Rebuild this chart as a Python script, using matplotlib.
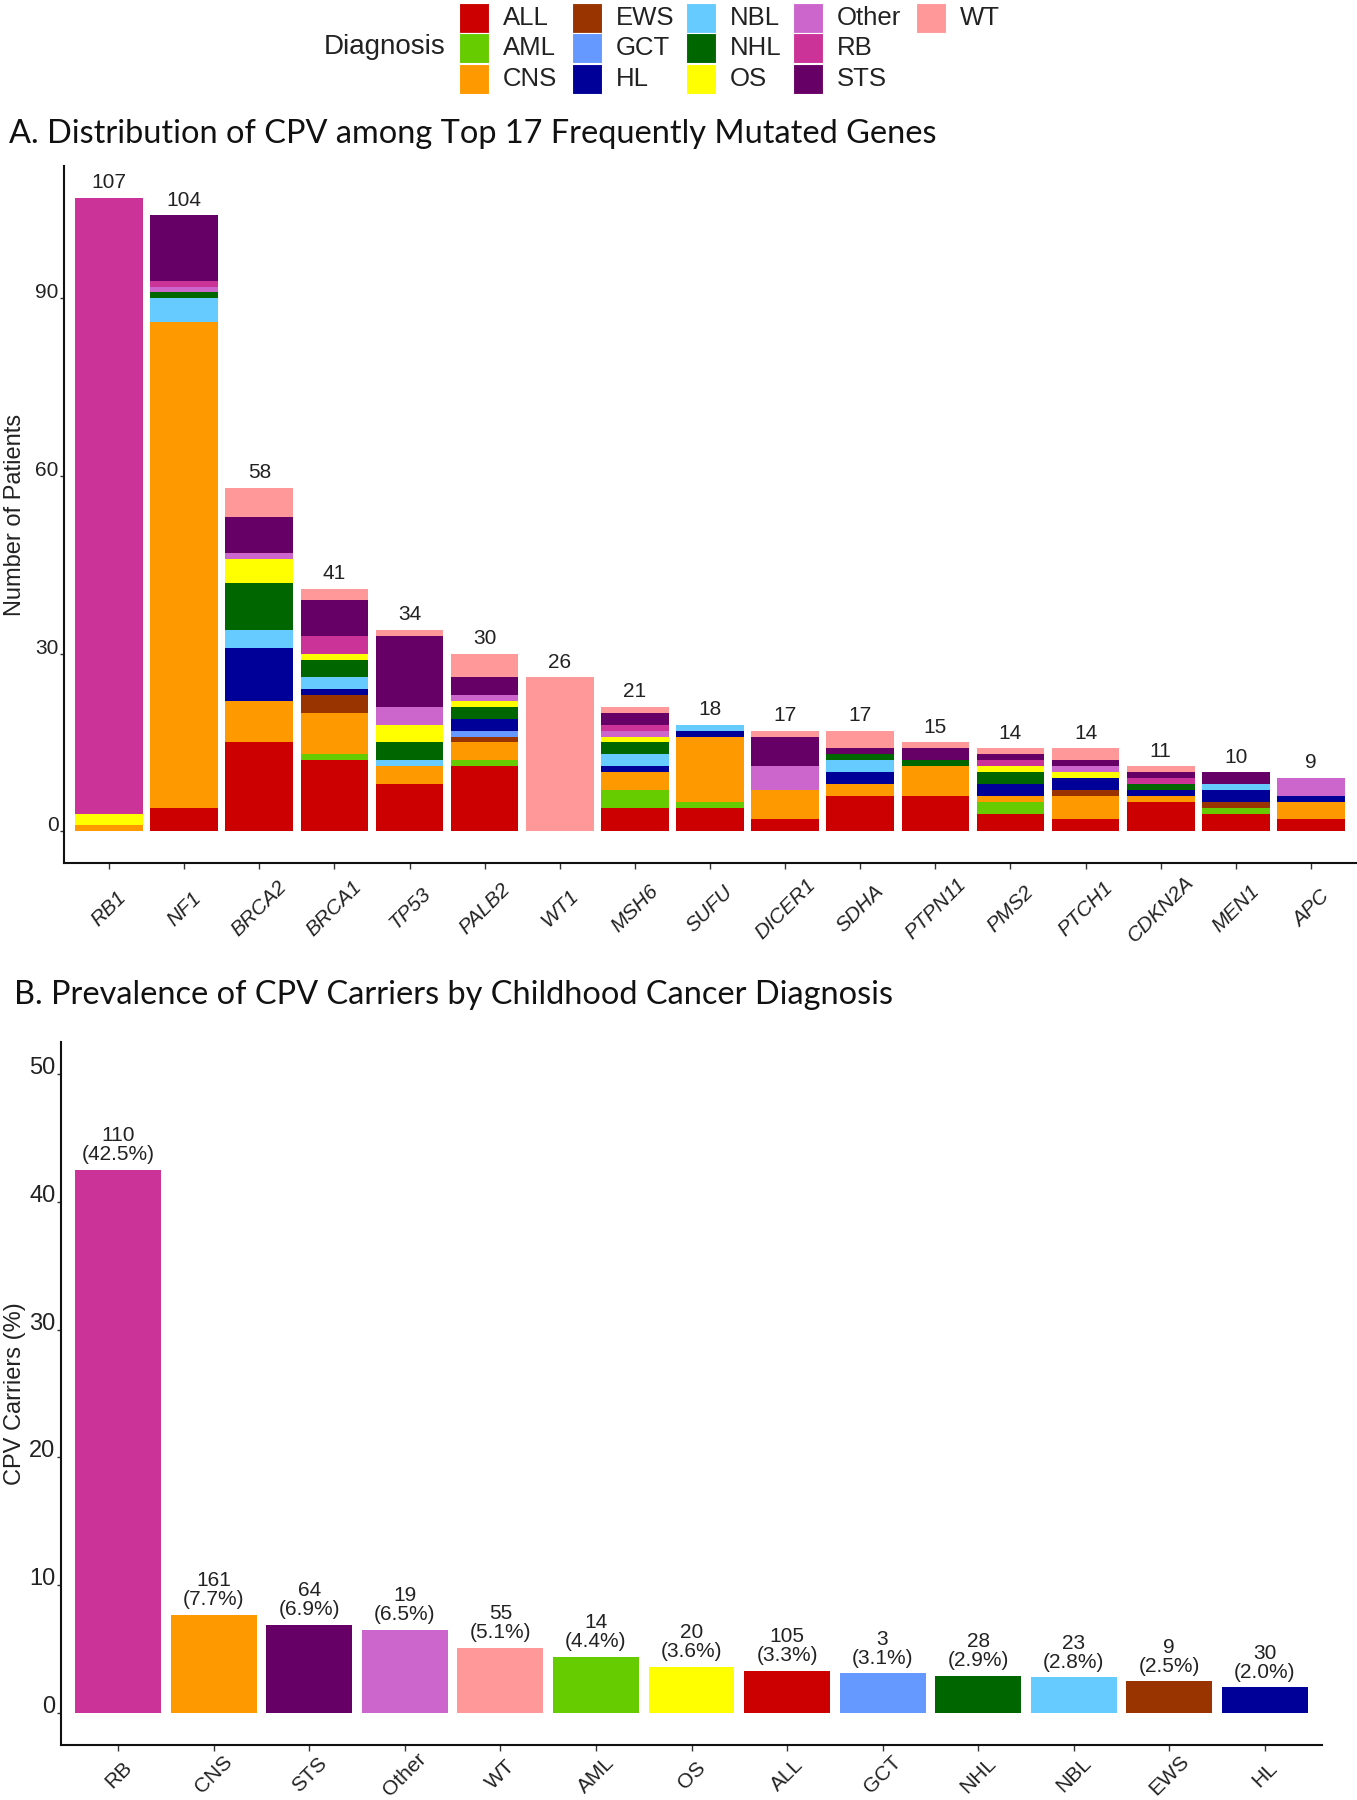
import matplotlib
matplotlib.use("Agg")
import matplotlib.pyplot as plt
from matplotlib.patches import Rectangle
import numpy as np

# ---------------- data ----------------
genes = ['RB1', 'NF1', 'BRCA2', 'BRCA1', 'TP53', 'PALB2', 'WT1', 'MSH6', 'SUFU',
         'DICER1', 'SDHA', 'PTPN11', 'PMS2', 'PTCH1', 'CDKN2A', 'MEN1', 'APC']
diagnoses = ['ALL', 'AML', 'CNS', 'EWS', 'GCT', 'HL', 'NBL', 'NHL', 'OS',
             'Other', 'RB', 'STS', 'WT']

ALL   = [0, 4, 15, 12, 8, 11, 0, 4, 4, 2, 6, 6, 3, 2, 5, 3, 2]
AML   = [0, 0, 0, 1, 0, 1, 0, 3, 1, 0, 0, 0, 2, 0, 0, 1, 0]
CNS   = [1, 82, 7, 7, 3, 3, 0, 3, 11, 5, 2, 5, 1, 4, 1, 0, 3]
EWS   = [0, 0, 0, 3, 0, 1, 0, 0, 0, 0, 0, 0, 0, 1, 0, 1, 0]
GCT   = [0, 0, 0, 0, 0, 1, 0, 0, 0, 0, 0, 0, 0, 0, 0, 0, 0]
HL    = [0, 0, 9, 1, 0, 2, 0, 1, 1, 0, 2, 0, 2, 2, 1, 2, 1]
NBL   = [0, 4, 3, 2, 1, 0, 0, 2, 1, 0, 2, 0, 0, 0, 0, 1, 0]
NHL   = [0, 1, 8, 3, 3, 2, 0, 2, 0, 0, 1, 1, 2, 0, 1, 0, 0]
OS    = [2, 0, 4, 1, 3, 1, 0, 1, 0, 0, 0, 0, 1, 1, 0, 0, 0]
Other = [0, 1, 1, 0, 3, 1, 0, 1, 0, 4, 0, 0, 0, 1, 0, 0, 3]
RB    = [104, 1, 0, 3, 0, 0, 0, 1, 0, 0, 0, 0, 1, 0, 1, 0, 0]
STS   = [0, 11, 6, 6, 12, 3, 0, 2, 0, 5, 1, 2, 1, 1, 1, 2, 0]
WT    = [0, 0, 5, 2, 1, 4, 26, 1, 0, 1, 3, 1, 1, 2, 1, 0, 0]
series_a = [ALL, AML, CNS, EWS, GCT, HL, NBL, NHL, OS, Other, RB, STS, WT]

b_diag = ['RB', 'CNS', 'STS', 'Other', 'WT', 'AML', 'OS', 'ALL', 'GCT', 'NHL', 'NBL', 'EWS', 'HL']
b_n = [110, 161, 64, 19, 55, 14, 20, 105, 3, 28, 23, 9, 30]
b_pct = [42.5, 7.7, 6.9, 6.5, 5.1, 4.4, 3.6, 3.3, 3.1, 2.9, 2.8, 2.5, 2.0]

# ---------------- style ----------------
colors = {'ALL': '#CC0000', 'AML': '#66CC00', 'CNS': '#FF9900', 'EWS': '#993300',
          'GCT': '#6699FF', 'HL': '#000099', 'NBL': '#66CCFF', 'NHL': '#006600',
          'OS': '#FFFF00', 'Other': '#CC66CC', 'RB': '#CC3399', 'STS': '#660066',
          'WT': '#FF9999'}

plt.rcParams['font.family'] = ['Liberation Sans', 'DejaVu Sans']
W, H = 1357, 1800
fig = plt.figure(figsize=(W / 100, H / 100), dpi=100)

def fx(px):
    return px / W

def fy(py):
    return 1 - py / H

TXT = '#222222'
PX2PT = 0.72  # pixels -> points at dpi 100

# ---------------- legend (manual) ----------------
leg_cols = [['ALL', 'AML', 'CNS'], ['EWS', 'GCT', 'HL'], ['NBL', 'NHL', 'OS'],
            ['Other', 'RB', 'STS'], ['WT']]
key_x = [459, 572, 686, 793, 916]
row_y = [3, 33, 64]
key = 30
for ci, col in enumerate(leg_cols):
    for ri, d in enumerate(col):
        x0 = key_x[ci]
        y0 = row_y[ri]
        fig.patches.append(Rectangle((fx(x0), fy(y0 + key)), fx(key), key / H,
                                     transform=fig.transFigure, facecolor=colors[d],
                                     edgecolor='white', linewidth=0.8))
        fig.text(fx(x0 + key + 14), fy(y0 + key / 2), d, fontsize=18.5, color=TXT,
                 ha='left', va='center')
fig.text(fx(446), fy(47), 'Diagnosis', fontsize=20, color=TXT, ha='right', va='center')

# ---------------- titles ----------------
fig.text(fx(9), fy(134), 'A. Distribution of CPV among Top 17 Frequently Mutated Genes',
         fontsize=23.4, family=['Lato', 'DejaVu Sans'], ha='left', va='center', color='#111111')
fig.text(fx(14), fy(995), 'B. Prevalence of CPV Carriers by Childhood Cancer Diagnosis',
         fontsize=23.4, family=['Lato', 'DejaVu Sans'], ha='left', va='center', color='#111111')

# ---------------- panel A ----------------
axA = fig.add_axes([fx(64), fy(863), fx(1356 - 64), (863 - 166) / H])
x = np.arange(len(genes))
bottom = np.zeros(len(genes))
for d, vals in zip(diagnoses, series_a):
    v = np.array(vals, dtype=float)
    axA.bar(x, v, width=0.9, bottom=bottom, color=colors[d], linewidth=0)
    bottom += v
totals = bottom
for xi, t in zip(x, totals):
    axA.annotate(f'{int(t)}', (xi, t), xytext=(0, 4), textcoords='offset points',
                 ha='center', va='bottom', fontsize=15, color=TXT)
axA.set_xlim(-0.6, len(genes) - 0.4)
axA.set_ylim(-5.35, 112.35)
axA.set_yticks([0, 30, 60, 90])
axA.set_xticks(x)
axA.set_xticklabels(genes, rotation=45, ha='center', va='center', fontstyle='italic',
                    fontsize=15, color=TXT)
for lab in axA.get_yticklabels():
    lab.set_va('baseline')
axA.tick_params(axis='y', labelsize=15, labelcolor=TXT, length=3, width=1, pad=1, color='#333333')
axA.tick_params(axis='x', length=4, width=1, pad=(46 - 5.6) * PX2PT, color='#333333')
axA.set_ylabel('Number of Patients', fontsize=17, color=TXT, va='center')
axA.yaxis.set_label_coords((15 - 64) / (1356 - 64), 0.5)
for s in ['top', 'right']:
    axA.spines[s].set_visible(False)
for s in ['left', 'bottom']:
    axA.spines[s].set_linewidth(1.5)
    axA.spines[s].set_color('#111111')

# ---------------- panel B ----------------
axB = fig.add_axes([fx(61), fy(1745), fx(1322 - 61), (1745 - 1042) / H])
xb = np.arange(len(b_diag))
axB.bar(xb, b_pct, width=0.9, color=[colors[d] for d in b_diag], linewidth=0)
for xi, n, p in zip(xb, b_n, b_pct):
    axB.annotate(f'{n}\n({p:.1f}%)', (xi, p), xytext=(0, 4), textcoords='offset points',
                 ha='center', va='bottom', fontsize=15, color=TXT, linespacing=1.0)
axB.set_xlim(-0.6, len(b_diag) - 0.4)
axB.set_ylim(-2.5, 52.5)
axB.set_yticks([0, 10, 20, 30, 40, 50])
axB.set_xticks(xb)
axB.set_xticklabels(b_diag, rotation=45, ha='center', va='center', fontsize=15, color=TXT)
for lab in axB.get_yticklabels():
    lab.set_va('baseline')
axB.tick_params(axis='y', labelsize=17, labelcolor=TXT, length=3, width=1, pad=1, color='#333333')
axB.tick_params(axis='x', length=4, width=1, pad=(30 - 5.6) * PX2PT, color='#333333')
axB.set_ylabel('CPV Carriers (%)', fontsize=17, color=TXT, va='center')
axB.yaxis.set_label_coords((15 - 61) / (1322 - 61), 0.5)
for s in ['top', 'right']:
    axB.spines[s].set_visible(False)
for s in ['left', 'bottom']:
    axB.spines[s].set_linewidth(1.5)
    axB.spines[s].set_color('#111111')

fig.savefig('out.png', dpi=100)
